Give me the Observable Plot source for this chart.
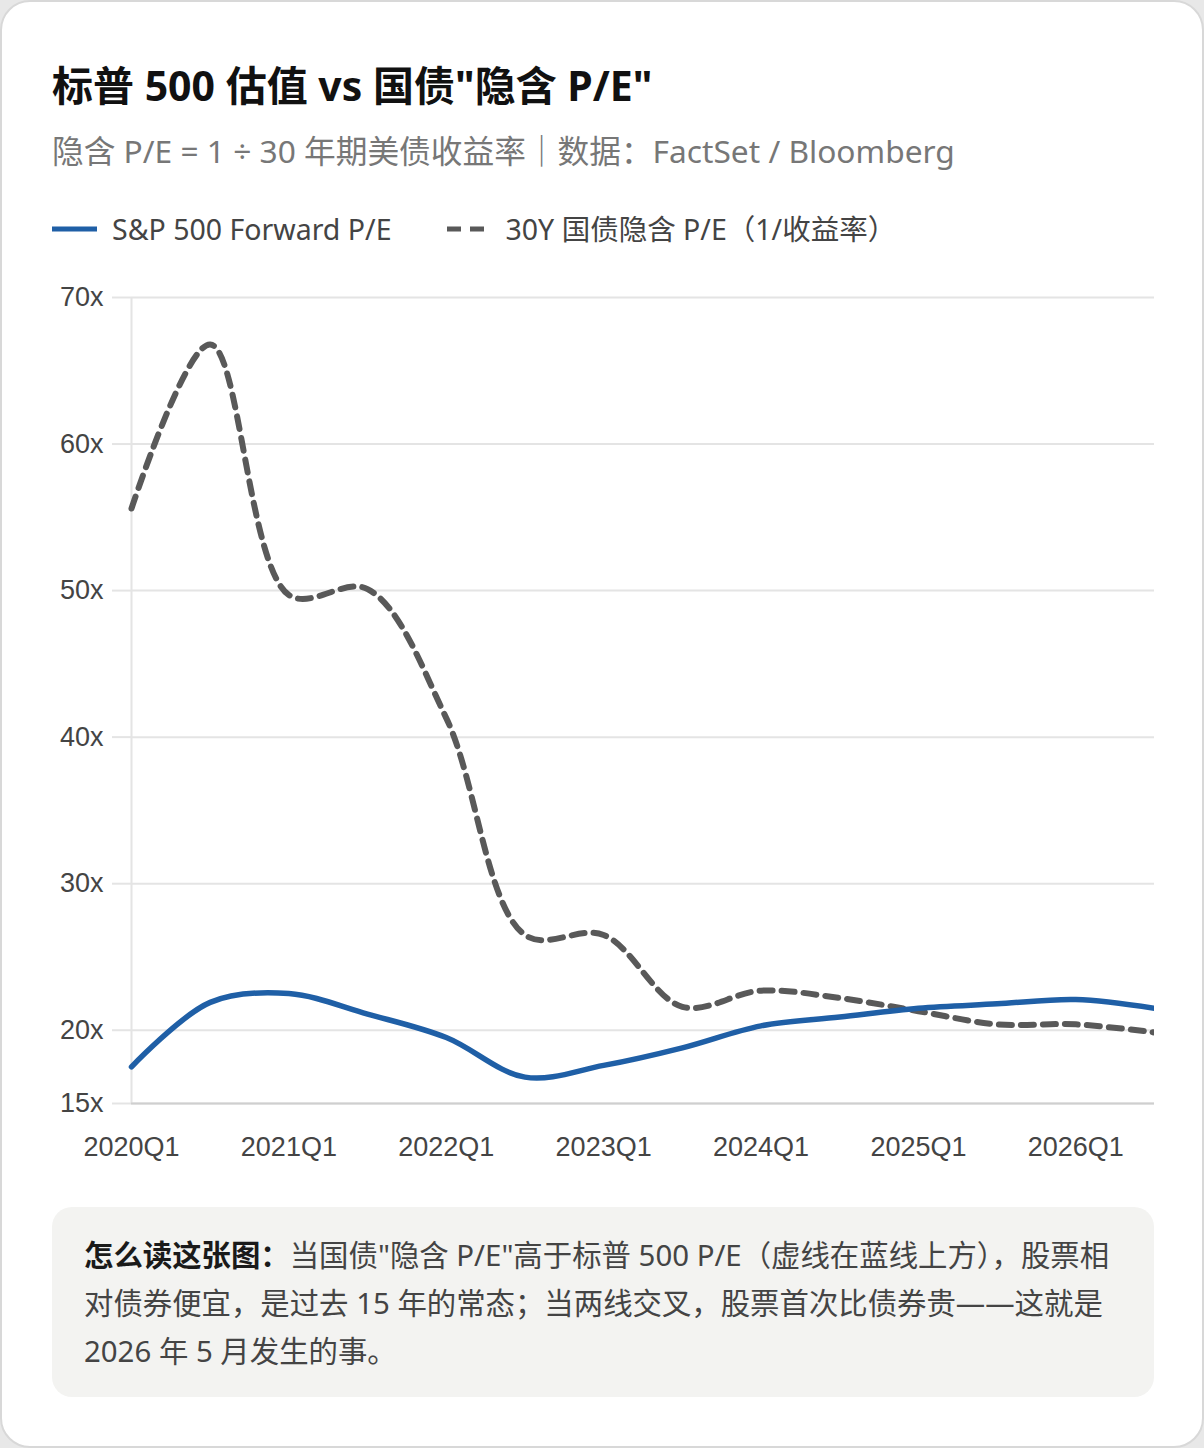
<!DOCTYPE html>
<html lang="zh-CN">
<head>
<meta charset="utf-8">
<script src="https://cdn.jsdelivr.net/npm/d3@7"></script>
<script src="https://cdn.jsdelivr.net/npm/@observablehq/plot@0.6"></script>
<style>
  html, body { margin: 0; padding: 0; background: #e8e8e8; }
  .card {
    box-sizing: border-box; position: relative;
    width: 1204px; height: 1448px; background: #fff;
    border: 2px solid #d8d8d8; border-radius: 30px;
    font-family: "Noto Sans", "Noto Sans CJK SC", sans-serif;
    overflow: hidden;
  }
  .title { position: absolute; left: 50px; top: 58px; margin: 0;
    font-size: 41px; line-height: 50px; font-weight: 700; color: #111; white-space: nowrap; }
  .subtitle { position: absolute; left: 50px; top: 129px; margin: 0;
    font-size: 31.7px; line-height: 40px; color: #777; white-space: nowrap; }
  .legend { position: absolute; left: 50px; top: 209px; display: flex; align-items: center;
    font-size: 28.5px; line-height: 36px; color: #444; white-space: nowrap; }
  .legend .item { display: flex; align-items: center; }
  .legend svg { margin-right: 15px; }
  #chart { position: absolute; left: 48px; top: 266px; }
  #chart g[aria-label="y-axis tick"] { stroke: #e4e4e4; stroke-width: 2px; }
  .note { position: absolute; left: 50px; top: 1205px; width: 1102px; height: 190px;
    box-sizing: border-box; padding: 24px 0 0 32px; background: #f3f3f1; border-radius: 20px;
    font-size: 29.4px; line-height: 48px; color: #444; white-space: nowrap; }
  .note b { color: #1a1a1a; font-weight: 700; }
</style>
</head>
<body>
<div class="card">
  <h1 class="title">标普 500 估值 vs 国债"隐含 P/E"</h1>
  <p class="subtitle">隐含 P/E = 1 ÷ 30 年期美债收益率｜数据：FactSet / Bloomberg</p>
  <div class="legend">
    <span class="item"><svg width="45" height="10"><line x1="0" y1="5" x2="45" y2="5" stroke="#1f5fa6" stroke-width="5"/></svg>S&amp;P 500 Forward P/E</span>
    <span class="item" style="margin-left:54px"><svg width="45" height="10"><line x1="1" y1="5" x2="45" y2="5" stroke="#595959" stroke-width="5" stroke-dasharray="14 9"/></svg>30Y 国债隐含 P/E（1/收益率）</span>
  </div>
  <div id="chart"></div>
  <div class="note"><b>怎么读这张图：</b>当国债"隐含 P/E"高于标普 500 P/E（虚线在蓝线上方），股票相<br>对债券便宜，是过去 15 年的常态；当两线交叉，股票首次比债券贵——这就是<br>2026 年 5 月发生的事。</div>
</div>
<script>
// Half-yearly observations
const quarters = ["2020Q1","2020Q3","2021Q1","2021Q3","2022Q1","2022Q3","2023Q1",
                  "2023Q3","2024Q1","2024Q3","2025Q1","2025Q3","2026Q1","2026Q3"];
// S&P 500 forward P/E
const spxForwardPE = [17.5, 21.9, 22.5, 21.1, 19.5, 16.8, 17.6, 18.8, 20.3, 20.9, 21.5, 21.8, 22.1, 21.5];
// 30Y Treasury implied P/E (1 / yield)
const bondImpliedPE = [55.6, 66.8, 49.7, 50.1, 41.3, 26.5, 26.5, 21.6, 22.7, 22.2, 21.3, 20.4, 20.4, 19.85];
// Axis ticks
const yTicks = [15, 20, 30, 40, 50, 60, 70];
const xTickYears = [2020, 2021, 2022, 2023, 2024, 2025, 2026];

// Quarter label -> fractional year position
const toT = q => +q.slice(0, 4) + (+q.slice(5) - 1) / 4;
const spx = quarters.map((q, i) => ({t: toT(q), v: spxForwardPE[i]}));
const bond = quarters.map((q, i) => ({t: toT(q), v: bondImpliedPE[i]}));

const chart = Plot.plot({
  width: 1104,
  height: 907,
  marginLeft: 81,
  marginRight: 0,
  marginTop: 29,
  marginBottom: 72,
  style: {fontFamily: "'Liberation Sans', Arial, sans-serif", fontSize: "27px", color: "#444", background: "transparent"},
  x: {domain: [toT(quarters[0]), toT(quarters[quarters.length - 1])], label: null},
  y: {domain: [15, 70], label: null},
  marks: [
    Plot.gridY(yTicks, {stroke: "#e4e4e4", strokeOpacity: 1, strokeWidth: 2}),
    Plot.ruleX([toT(quarters[0])], {stroke: "#e4e4e4", strokeWidth: 2}),
    Plot.ruleY([15], {stroke: "#cfcfcf", strokeWidth: 2}),
    Plot.axisY(yTicks, {tickSize: 19, tickPadding: 9, tickFormat: d => d + "x", label: null}),
    Plot.axisX(xTickYears, {tickSize: 0, tickPadding: 33, tickFormat: d => d + "Q1", label: null}),
    Plot.line(bond, {x: "t", y: "v", curve: "catmull-rom", stroke: "#595959", strokeWidth: 6, strokeDasharray: "13 9"}),
    Plot.line(spx, {x: "t", y: "v", curve: "catmull-rom", stroke: "#1f5fa6", strokeWidth: 5.5})
  ]
});
document.getElementById("chart").appendChild(chart);
</script>
</body>
</html>
